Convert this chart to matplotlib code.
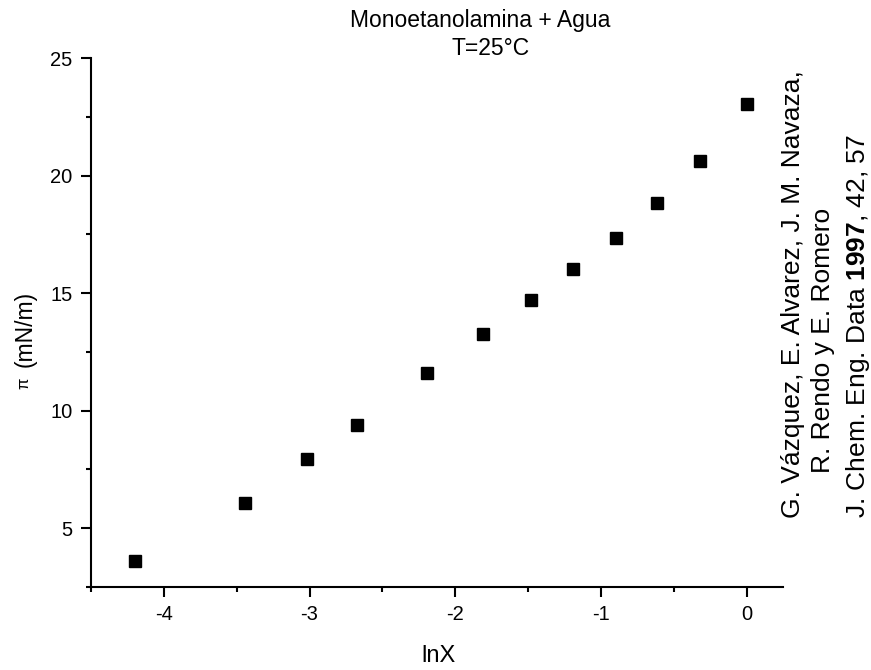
import numpy as np
import matplotlib
matplotlib.use("Agg")
import matplotlib.pyplot as plt
from matplotlib.ticker import MultipleLocator

plt.rcParams['font.family'] = ['Liberation Sans', 'DejaVu Sans']
plt.rcParams['mathtext.fontset'] = 'custom'
plt.rcParams['mathtext.rm'] = 'Liberation Sans'
plt.rcParams['mathtext.bf'] = 'Liberation Sans:bold'
plt.rcParams['axes.unicode_minus'] = False

# datos
lnX = [-4.20, -3.444, -3.019, -2.676, -2.193, -1.811, -1.482, -1.190, -0.899, -0.616, -0.322, 0.0]
pi_vals = [3.59, 6.06, 7.93, 9.39, 11.61, 13.28, 14.69, 16.03, 17.36, 18.83, 20.64, 23.05]

W, H = 871, 670
fig = plt.figure(figsize=(W / 100, H / 100), dpi=100)
ax = fig.add_axes([91 / W, 1 - 587 / H, (783 - 91) / W, (587 - 58) / H])

ax.plot(lnX, pi_vals, 's', color='black', ms=8.6, mec='black')

ax.set_xlim(-4.5, 0.25)
ax.set_ylim(2.5, 25)
ax.xaxis.set_major_locator(MultipleLocator(1))
ax.xaxis.set_minor_locator(MultipleLocator(0.5))
ax.yaxis.set_major_locator(MultipleLocator(5))
ax.yaxis.set_minor_locator(MultipleLocator(2.5))

for s in ['top', 'right']:
    ax.spines[s].set_visible(False)
for s in ['left', 'bottom']:
    ax.spines[s].set_linewidth(1.5)
ax.tick_params(which='major', direction='out', length=7.2, width=1.5, labelsize=14.5, pad=6)
ax.tick_params(which='minor', direction='out', length=3.6, width=1.5)


def px(x, y):
    # pixel (desde arriba-izquierda) -> fraccion de figura
    return x / W, 1 - y / H


# titulo
fig.text(*px(480, 27), 'Monoetanolamina + Agua', ha='center', va='baseline', fontsize=16.5)
fig.text(*px(491, 55), 'T=25°C', ha='center', va='baseline', fontsize=16.5)

# etiquetas de ejes
fig.text(*px(438, 662), 'lnX', ha='center', va='baseline', fontsize=17)
fig.text(*px(32, 367), '(mN/m)', rotation=90, rotation_mode='anchor',
         ha='left', va='baseline', fontsize=16.5)
fig.text(*px(28, 389), 'π', rotation=90, rotation_mode='anchor',
         ha='left', va='baseline', fontsize=12)

# referencia
ref_kw = dict(rotation=90, rotation_mode='anchor', ha='left', va='baseline', fontsize=19)
fig.text(*px(800, 518), 'G. Vázquez, E. Alvarez, J. M. Navaza,', **ref_kw)
fig.text(*px(830, 473), 'R. Rendo y E. Romero', **ref_kw)
fig.text(*px(865, 518), r'J. Chem. Eng. Data $\mathbf{1997}$, 42, 57', **ref_kw)

plt.savefig('out.png')
